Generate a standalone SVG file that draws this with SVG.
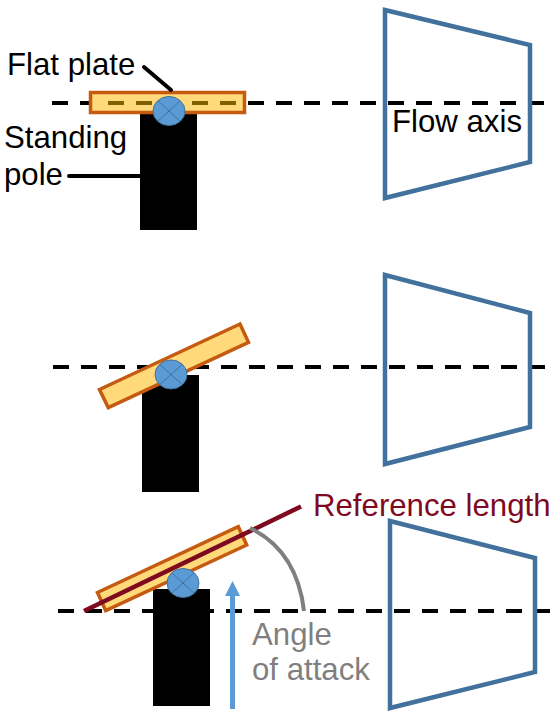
<svg xmlns="http://www.w3.org/2000/svg" width="552" height="712" viewBox="0 0 552 712">
<style>
text{font-family:"Liberation Sans",Arial,sans-serif;font-size:31.2px;fill:#000}
.axis{fill:none;stroke:#000;stroke-width:4;stroke-dasharray:16 12}
.duct{fill:none;stroke:#41719C;stroke-width:4.5}
.plate{fill:#FFD97A;stroke:#C55A11;stroke-width:3.5}
.pin{fill:#5B9BD5;stroke:#41719C;stroke-width:1}
.x{stroke:#41719C;stroke-width:1;fill:none}
.lead{stroke:#000;stroke-width:4;stroke-linecap:round;fill:none}
.pole{fill:#000}
</style>
<rect width="552" height="712" fill="#fff"/>
<g id="connectors">
<line class="axis" x1="52" y1="103" x2="552" y2="103"/>
<line class="axis" x1="53" y1="367" x2="552" y2="367"/>
<line class="axis" x1="58" y1="611" x2="552" y2="611"/>
</g>
<g id="duct-top"><polygon class="duct" points="385,10 530,45 530,162 385,198"/></g>
<g id="duct-middle"><polygon class="duct" points="385,275 530,313 530,427 385,464"/></g>
<g id="duct-bottom"><polygon class="duct" points="390,521 535,558 535,672 390,708"/></g>
<g id="assembly-top">
<rect class="pole" x="140" y="113" width="57" height="117"/>
<rect class="plate" x="90.500" y="92.500" width="154" height="20"/>
<line x1="108" y1="103" x2="236" y2="103" stroke="#806000" stroke-width="4" stroke-dasharray="16 12"/>
<ellipse class="pin" cx="169" cy="111" rx="16" ry="14.500"/>
<path class="x" d="M158,101L180,121M180,101L158,121"/>
</g>
<g id="assembly-middle">
<rect class="pole" x="142" y="375" width="57" height="117"/>
<polygon class="plate" points="99.500,389.500 240,324 248.500,342.300 108.300,407.700"/>
<ellipse class="pin" cx="171" cy="374.500" rx="16" ry="14.500"/>
<path class="x" d="M160,364.500L182,384.500M182,364.500L160,384.500"/>
</g>
<g id="assembly-bottom">
<rect class="pole" x="153" y="589" width="57" height="117"/>
<polygon class="plate" points="97.500,592.500 238.300,526.700 246.700,545 105.700,610.700"/>
<line x1="84" y1="611" x2="301" y2="506.500" stroke="#7F0A1F" stroke-width="4.500"/>
<ellipse class="pin" cx="183" cy="583" rx="16" ry="14.500"/>
<path class="x" d="M172,573L194,593M194,573L172,593"/>
</g>
<g id="angle-arc"><path d="M250,528Q297,551 304,611" fill="none" stroke="#7F7F7F" stroke-width="4"/></g>
<g id="arrow">
<line x1="232.500" y1="709" x2="232.500" y2="594" stroke="#5B9BD5" stroke-width="5"/>
<polygon points="232.500,581 240,596 225,596" fill="#5B9BD5"/>
</g>
<g id="label-flat-plate">
<text x="7" y="75">Flat plate</text>
<line class="lead" x1="144" y1="67" x2="171" y2="90"/>
</g>
<g id="label-standing-pole">
<text x="4" y="148">Standing</text>
<text x="4" y="185">pole</text>
<line class="lead" x1="69" y1="176" x2="141" y2="176"/>
</g>
<g id="label-flow-axis"><text x="392" y="132">Flow axis</text></g>
<g id="label-reference-length"><text x="313" y="516" style="fill:#7F0A1F">Reference length</text></g>
<g id="label-angle">
<text x="252" y="645" style="fill:#7F7F7F">Angle</text>
<text x="252" y="680" style="fill:#7F7F7F">of attack</text>
</g>
</svg>
